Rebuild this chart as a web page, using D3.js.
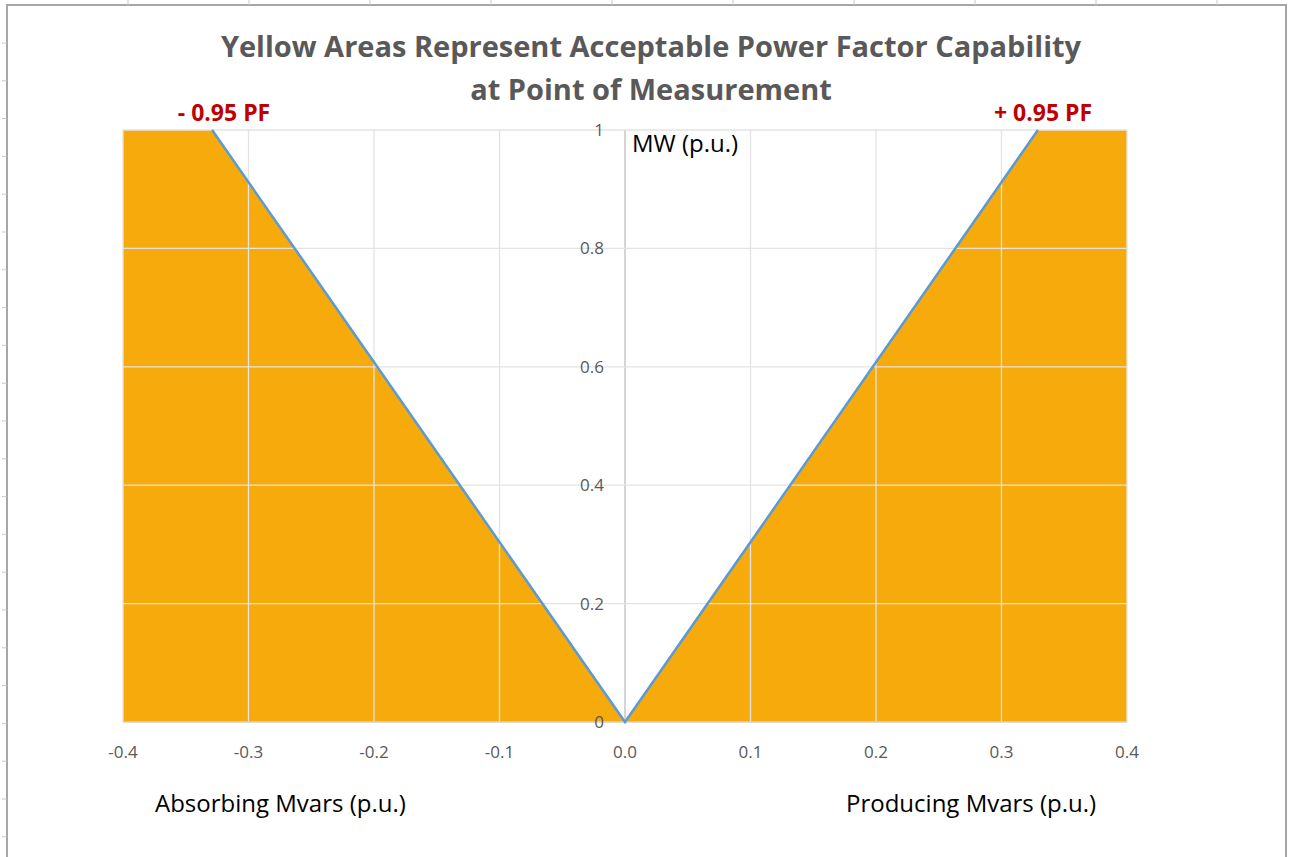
<!DOCTYPE html>
<html>
<head>
<meta charset="utf-8">
<script src="https://cdn.jsdelivr.net/npm/d3@7"></script>
<style>
  body { margin: 0; background: #fff; }
  svg { display: block; font-family: "Open Sans", sans-serif; }
</style>
</head>
<body>
<svg id="chart" width="1296" height="857"></svg>
<script>
// chart values
const xDomain = [-0.4, 0.4];
const yDomain = [0, 1];
const xTicks = [-0.4, -0.3, -0.2, -0.1, 0, 0.1, 0.2, 0.3, 0.4];
const yTicks = [0, 0.2, 0.4, 0.6, 0.8, 1];
const leftArea = [[-0.4, 0], [-0.4, 1], [-0.329, 1], [0, 0]];
const rightArea = [[0, 0], [0.329, 1], [0.4, 1], [0.4, 0]];
const pfLine = [[-0.329, 1], [0, 0], [0.329, 1]];
const titleLines = ["Yellow Areas Represent Acceptable Power Factor Capability", "at Point of Measurement"];
const pfLabels = ["- 0.95 PF", "+ 0.95 PF"];

const width = 1296;
const height = 857;
const margin = { left: 123, right: 169, top: 130, bottom: 135 };

const svg = d3.select("#chart");

// sheet frame with row/column marks
svg.append("path")
  .attr("d", `M7,${height}V5H1286V${height}`)
  .attr("fill", "none")
  .attr("stroke", "#a6a6a6")
  .attr("stroke-width", 2);
svg.selectAll(".colmark")
  .data(d3.range(10))
  .join("line")
  .attr("class", "colmark")
  .attr("x1", (d) => 128 + d * 121)
  .attr("x2", (d) => 128 + d * 121)
  .attr("y1", 0)
  .attr("y2", 5)
  .attr("stroke", "#c8c8c8");
svg.selectAll(".rowmark")
  .data(d3.range(22))
  .join("line")
  .attr("class", "rowmark")
  .attr("x1", 2)
  .attr("x2", 7)
  .attr("y1", (d) => 43 + d * 37.8)
  .attr("y2", (d) => 43 + d * 37.8)
  .attr("stroke", "#c8c8c8");

const x = d3.scaleLinear().domain(xDomain).range([margin.left, width - margin.right]);
const y = d3.scaleLinear().domain(yDomain).range([height - margin.bottom, margin.top]);

const area = d3.line().x((d) => x(d[0])).y((d) => y(d[1]));

svg.selectAll(".zone")
  .data([leftArea, rightArea])
  .join("path")
  .attr("class", "zone")
  .attr("d", (d) => area(d) + "Z")
  .attr("fill", "#f6aa0c");

// gridlines
svg.append("g")
  .selectAll("line")
  .data(xTicks)
  .join("line")
  .attr("x1", (d) => x(d))
  .attr("x2", (d) => x(d))
  .attr("y1", y(1))
  .attr("y2", y(0))
  .attr("stroke", (d) => (d === 0 ? "#bfbfbf" : "#e3e3e3"))
  .attr("stroke-width", 1.3);
svg.append("g")
  .selectAll("line")
  .data(yTicks)
  .join("line")
  .attr("x1", x(-0.4))
  .attr("x2", x(0.4))
  .attr("y1", (d) => y(d))
  .attr("y2", (d) => y(d))
  .attr("stroke", (d) => (d === 0 ? "#d0d0d0" : "#e3e3e3"))
  .attr("stroke-width", 1.3);

svg.append("path")
  .attr("d", area(pfLine))
  .attr("fill", "none")
  .attr("stroke", "#5b9bd5")
  .attr("stroke-width", 2.5);

// x tick labels, plain hyphen like the sheet
svg.append("g")
  .selectAll("text")
  .data(xTicks)
  .join("text")
  .attr("x", (d) => x(d))
  .attr("y", 758)
  .attr("text-anchor", "middle")
  .attr("font-size", 17)
  .attr("fill", "#595959")
  .text((d) => d3.format(".1f")(d).replace("\u2212", "-"));

// y tick labels next to the centre axis
svg.append("g")
  .selectAll("text")
  .data(yTicks)
  .join("text")
  .attr("x", x(0) - 21)
  .attr("y", (d) => y(d) + 6)
  .attr("text-anchor", "end")
  .attr("font-size", 17)
  .attr("fill", "#595959")
  .text((d) => d3.format("~g")(d));

svg.selectAll(".title")
  .data(titleLines)
  .join("text")
  .attr("class", "title")
  .attr("x", 651)
  .attr("y", (d, i) => 57 + i * 43)
  .attr("text-anchor", "middle")
  .attr("font-size", 29)
  .attr("font-weight", "bold")
  .attr("fill", "#595959")
  .text((d) => d);

svg.selectAll(".pf")
  .data(pfLabels)
  .join("text")
  .attr("class", "pf")
  .attr("x", (d, i) => (i === 0 ? 224 : 1043))
  .attr("y", 121)
  .attr("text-anchor", "middle")
  .attr("font-size", 23)
  .attr("font-weight", "bold")
  .attr("fill", "#c00000")
  .text((d) => d);

svg.append("text")
  .attr("x", 632)
  .attr("y", 152)
  .attr("font-size", 24)
  .attr("fill", "#000")
  .text("MW (p.u.)");

svg.append("text")
  .attr("x", 155)
  .attr("y", 812)
  .attr("font-size", 24)
  .attr("fill", "#000")
  .text("Absorbing Mvars (p.u.)");

svg.append("text")
  .attr("x", 846)
  .attr("y", 812)
  .attr("font-size", 24)
  .attr("fill", "#000")
  .text("Producing Mvars (p.u.)");
</script>
</body>
</html>
